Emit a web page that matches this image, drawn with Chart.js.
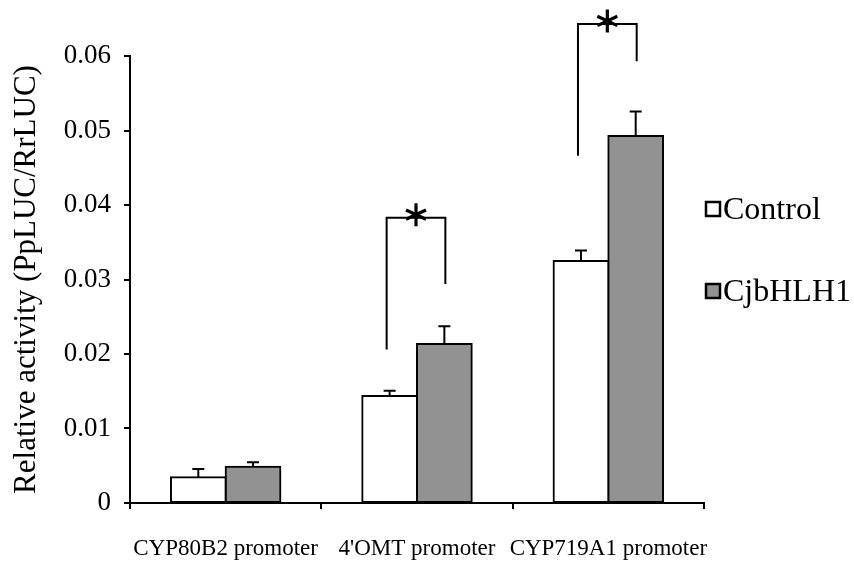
<!DOCTYPE html>
<html>
<head>
<meta charset="utf-8">
<script src="https://cdn.jsdelivr.net/npm/chart.js@4.4.1/dist/chart.umd.min.js"></script>
<style>
  html, body { margin: 0; padding: 0; background: #fff; }
  #wrap { width: 854px; height: 563px; }
</style>
</head>
<body>
<div id="wrap"><canvas id="c" width="854" height="563"></canvas></div>
<script>
// Promoter activity data
const categories = ['CYP80B2 promoter', "4'OMT promoter", 'CYP719A1 promoter'];
const seriesNames = ['Control', 'CjbHLH1'];
const controlValues = [0.00345, 0.01436, 0.03248];
const controlErrors = [0.0011, 0.0007, 0.0014];
const cjbhlh1Values = [0.00487, 0.02134, 0.04926];
const cjbhlh1Errors = [0.0006, 0.0024, 0.0033];
const yTicks = [0, 0.01, 0.02, 0.03, 0.04, 0.05, 0.06];
// Significance brackets per category: top line, left leg end, right leg end
const bracketTop = [null, 0.0383, 0.0643];
const bracketLeftEnd = [null, 0.0206, 0.0466];
const bracketRightEnd = [null, 0.0294, 0.0593];

const SERIF = "'Liberation Serif', 'Times New Roman', serif";
const GREY = '#929292';

// Upper error bars on every bar
const errorBars = {
  id: 'errorBars',
  afterDatasetsDraw(chart) {
    const ctx = chart.ctx;
    const y = chart.scales.y;
    const errs = [controlErrors, cjbhlh1Errors];
    ctx.save();
    ctx.strokeStyle = '#000';
    ctx.lineWidth = 2;
    chart.data.datasets.forEach((ds, di) => {
      const meta = chart.getDatasetMeta(di);
      meta.data.forEach((bar, i) => {
        const top = y.getPixelForValue(ds.data[i] + errs[di][i]);
        ctx.beginPath();
        ctx.moveTo(bar.x, bar.y);
        ctx.lineTo(bar.x, top);
        ctx.moveTo(bar.x - 6, top);
        ctx.lineTo(bar.x + 6, top);
        ctx.stroke();
      });
    });
    ctx.restore();
  }
};

// Brackets with an asterisk marking significant differences
const sigBrackets = {
  id: 'sigBrackets',
  afterDatasetsDraw(chart) {
    const ctx = chart.ctx;
    const y = chart.scales.y;
    const m0 = chart.getDatasetMeta(0), m1 = chart.getDatasetMeta(1);
    ctx.save();
    ctx.strokeStyle = '#000';
    categories.forEach((c, i) => {
      if (bracketTop[i] == null) return;
      const xl = m0.data[i].x - 3;
      const xr = m1.data[i].x + 1;
      const yt = y.getPixelForValue(bracketTop[i]);
      ctx.lineWidth = 2;
      ctx.beginPath();
      ctx.moveTo(xl, y.getPixelForValue(bracketLeftEnd[i]));
      ctx.lineTo(xl, yt);
      ctx.lineTo(xr, yt);
      ctx.lineTo(xr, y.getPixelForValue(bracketRightEnd[i]));
      ctx.stroke();
      // asterisk
      const cx = (xl + xr) / 2, cy = yt - 3;
      ctx.lineWidth = 3.2;
      ctx.beginPath();
      [[90, 11.5], [25, 11], [-25, 11]].forEach(([a, r]) => {
        const rad = a * Math.PI / 180;
        const dx = Math.cos(rad) * r, dy = Math.sin(rad) * r;
        ctx.moveTo(cx - dx, cy - dy);
        ctx.lineTo(cx + dx, cy + dy);
      });
      ctx.stroke();
    });
    ctx.restore();
  }
};

// Legend on the right side
const sideLegend = {
  id: 'sideLegend',
  afterDraw(chart, args, opts) {
    const ctx = chart.ctx;
    ctx.save();
    ctx.font = '32px ' + SERIF;
    ctx.textBaseline = 'middle';
    ctx.textAlign = 'left';
    chart.data.datasets.forEach((ds, i) => {
      const bx = opts.x, by = opts.y + i * opts.gap;
      ctx.fillStyle = ds.backgroundColor;
      ctx.fillRect(bx, by, 14, 14);
      ctx.strokeStyle = '#000';
      ctx.lineWidth = 2.5;
      ctx.strokeRect(bx, by, 14, 14);
      ctx.fillStyle = '#000';
      ctx.fillText(ds.label, bx + 17, by + 9);
    });
    ctx.restore();
  }
};

new Chart(document.getElementById('c'), {
  type: 'bar',
  data: {
    labels: categories,
    datasets: [
      { label: seriesNames[0], data: controlValues, backgroundColor: '#ffffff',
        borderColor: '#000', borderWidth: 2, borderSkipped: false, inflateAmount: 1 },
      { label: seriesNames[1], data: cjbhlh1Values, backgroundColor: GREY,
        borderColor: '#000', borderWidth: 2, borderSkipped: false, inflateAmount: 1 }
    ]
  },
  options: {
    responsive: false,
    animation: false,
    devicePixelRatio: 1,
    categoryPercentage: 0.572,
    barPercentage: 1,
    layout: { padding: { top: 56, right: 150, bottom: 0, left: 0 } },
    plugins: {
      legend: { display: false },
      tooltip: { enabled: false },
      sideLegend: { x: 706, y: 202, gap: 82 }
    },
    scales: {
      x: {
        grid: { offset: true, drawOnChartArea: false, drawTicks: true, tickLength: 6,
                color: '#000', lineWidth: 2 },
        border: { display: true, color: '#000', width: 2 },
        ticks: { color: '#000', font: { family: SERIF, size: 23 }, padding: 26, maxRotation: 0, autoSkip: false },
        afterFit(s) { s.height = 60; }
      },
      y: {
        min: 0, max: 0.06,
        afterBuildTicks(s) { s.ticks = yTicks.map(v => ({ value: v })); },
        grid: { drawOnChartArea: false, drawTicks: true, tickLength: 6, color: '#000', lineWidth: 2 },
        border: { display: true, color: '#000', width: 2 },
        ticks: { color: '#000', font: { family: SERIF, size: 27 }, padding: 13,
                 callback: v => v === 0 ? '0' : v.toFixed(2) },
        title: { display: true, text: 'Relative activity (PpLUC/RrLUC)', color: '#000',
                 font: { family: SERIF, size: 31 }, padding: { top: 8, bottom: 0 } },
        afterFit(s) { s.width = 130; }
      }
    }
  },
  plugins: [errorBars, sigBrackets, sideLegend]
});
</script>
</body>
</html>
